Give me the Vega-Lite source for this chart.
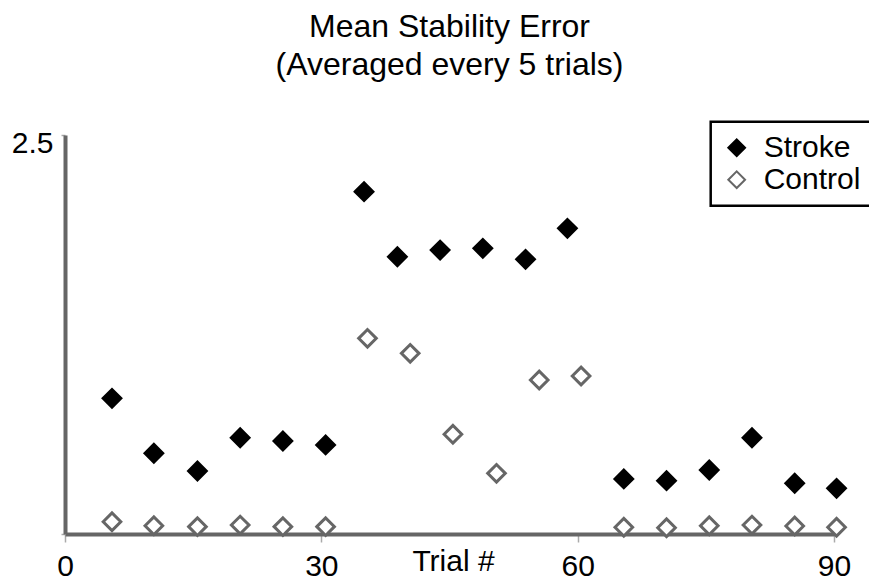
{
  "$schema": "https://vega.github.io/schema/vega-lite/v6.json",
  "width": 769,
  "height": 399,
  "autosize": {"type": "none"},
  "padding": {"left": 65, "top": 135, "right": 35, "bottom": 47},
  "background": "white",
  "title": {
    "text": ["Mean Stability Error", "(Averaged every 5 trials)"],
    "fontSize": 32,
    "font": "Liberation Sans",
    "fontWeight": "normal",
    "color": "black",
    "lineHeight": 38.5,
    "anchor": "middle",
    "offset": 38
  },
  "config": {
    "view": {"stroke": null},
    "font": "Liberation Sans",
    "legend": {"strokeWidth": 2.5}
  },
  "data": {
    "values": [
      {"group": "Stroke", "trial": 5.5, "error": 0.850},
      {"group": "Stroke", "trial": 10.4, "error": 0.506},
      {"group": "Stroke", "trial": 15.5, "error": 0.395},
      {"group": "Stroke", "trial": 20.5, "error": 0.603},
      {"group": "Stroke", "trial": 25.5, "error": 0.583},
      {"group": "Stroke", "trial": 30.5, "error": 0.558},
      {"group": "Stroke", "trial": 35.0, "error": 2.145},
      {"group": "Stroke", "trial": 38.9, "error": 1.737},
      {"group": "Stroke", "trial": 43.9, "error": 1.779},
      {"group": "Stroke", "trial": 48.9, "error": 1.790},
      {"group": "Stroke", "trial": 53.9, "error": 1.721},
      {"group": "Stroke", "trial": 58.8, "error": 1.915},
      {"group": "Stroke", "trial": 65.4, "error": 0.345},
      {"group": "Stroke", "trial": 70.4, "error": 0.334},
      {"group": "Stroke", "trial": 75.4, "error": 0.401},
      {"group": "Stroke", "trial": 80.4, "error": 0.603},
      {"group": "Stroke", "trial": 85.4, "error": 0.318},
      {"group": "Stroke", "trial": 90.3, "error": 0.286},
      {"group": "Control", "trial": 5.5, "error": 0.077},
      {"group": "Control", "trial": 10.4, "error": 0.052},
      {"group": "Control", "trial": 15.5, "error": 0.046},
      {"group": "Control", "trial": 20.5, "error": 0.056},
      {"group": "Control", "trial": 25.5, "error": 0.046},
      {"group": "Control", "trial": 30.5, "error": 0.046},
      {"group": "Control", "trial": 35.4, "error": 1.226},
      {"group": "Control", "trial": 40.4, "error": 1.132},
      {"group": "Control", "trial": 45.4, "error": 0.625},
      {"group": "Control", "trial": 50.5, "error": 0.380},
      {"group": "Control", "trial": 55.5, "error": 0.965},
      {"group": "Control", "trial": 60.4, "error": 0.990},
      {"group": "Control", "trial": 65.4, "error": 0.042},
      {"group": "Control", "trial": 70.4, "error": 0.039},
      {"group": "Control", "trial": 75.4, "error": 0.052},
      {"group": "Control", "trial": 80.4, "error": 0.056},
      {"group": "Control", "trial": 85.4, "error": 0.050},
      {"group": "Control", "trial": 90.3, "error": 0.042}
    ]
  },
  "mark": {
    "type": "point",
    "shape": "diamond",
    "size": 310,
    "strokeWidth": 3,
    "opacity": 1,
    "fillOpacity": 1,
    "strokeOpacity": 1
  },
  "encoding": {
    "x": {
      "field": "trial",
      "type": "quantitative",
      "scale": {"domain": [0, 90], "nice": false},
      "axis": {
        "values": [0, 30, 60, 90],
        "format": "d",
        "grid": false,
        "domainColor": "#666666",
        "domainWidth": 4,
        "tickColor": "#aaaaaa",
        "tickWidth": 1.5,
        "tickSize": 8,
        "labelFontSize": 30,
        "labelFont": "Liberation Sans",
        "labelColor": "black",
        "labelPadding": 9,
        "labelFlush": false,
        "title": "Trial #",
        "titleFont": "Liberation Sans",
        "titleFontSize": 30,
        "titleFontWeight": "normal",
        "titleColor": "black",
        "titleBaseline": "alphabetic",
        "titleAlign": "center",
        "titleX": 388,
        "titleY": 36
      }
    },
    "y": {
      "field": "error",
      "type": "quantitative",
      "scale": {"domain": [0, 2.5], "nice": false},
      "axis": {
        "values": [0, 2.5],
        "format": ".1f",
        "labelExpr": "datum.value == 0 ? '' : datum.label",
        "grid": false,
        "domainColor": "#666666",
        "domainWidth": 4,
        "tickColor": "#aaaaaa",
        "tickWidth": 1.5,
        "tickSize": 4,
        "labelFontSize": 30,
        "labelFont": "Liberation Sans",
        "labelColor": "black",
        "labelPadding": 8,
        "labelBaseline": "middle",
        "labelOffset": 8,
        "title": null
      }
    },
    "fill": {
      "field": "group",
      "type": "nominal",
      "scale": {"domain": ["Stroke", "Control"], "range": ["black", "white"]},
      "legend": {
        "title": null,
        "orient": "none",
        "legendX": 645.7,
        "legendY": -13.3,
        "strokeColor": "black",
        "padding": 11,
        "rowPadding": 2,
        "symbolType": "diamond",
        "symbolSize": 280,
        "symbolStrokeWidth": 2,
        "symbolOffset": 0,
        "labelFont": "Liberation Sans",
        "labelFontSize": 30,
        "labelColor": "black",
        "labelOffset": 12
      }
    },
    "stroke": {
      "field": "group",
      "type": "nominal",
      "scale": {"domain": ["Stroke", "Control"], "range": ["black", "#666666"]},
      "legend": {
        "title": null,
        "orient": "none",
        "legendX": 645.7,
        "legendY": -13.3,
        "strokeColor": "black",
        "padding": 11,
        "rowPadding": 2,
        "symbolType": "diamond",
        "symbolSize": 280,
        "symbolStrokeWidth": 2,
        "symbolOffset": 0,
        "labelFont": "Liberation Sans",
        "labelFontSize": 30,
        "labelColor": "black",
        "labelOffset": 12
      }
    }
  }
}
